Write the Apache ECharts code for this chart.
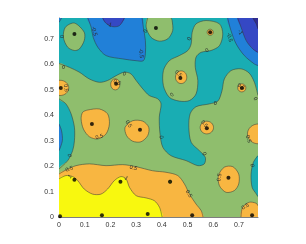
<!DOCTYPE html>
<html><head><meta charset="utf-8">
<script src="https://cdn.jsdelivr.net/npm/echarts@6/dist/echarts.min.js"></script>
<style>html,body{margin:0;padding:0;background:#fff}#c{width:306px;height:244px}</style>
</head><body><div id="c"></div>
<script>
// ---- axis ticks ----
const xTickLabels = ['0','0.1','0.2','0.3','0.4','0.5','0.6','0.7'];
const yTickLabels = ['0','0.1','0.2','0.3','0.4','0.5','0.6','0.7'];
const X = 0.774, Y = 0.783;   // axis limits

// ---- band colours (contour levels -1.5,-1,-0.5,0,0.5,1) ----
const C_NAVY='#2f2c92', C_INDIGO='#3548c4', C_BLUE='#2180d8', C_TEAL='#19adb3', C_GREEN='#8fbe6d', C_ORANGE='#f8b641', C_YELLOW='#f8f80f';
const LINE='#333333';

// ---- contour regions (data units) ----
const tealBase = [[0,0],[X,0],[X,Y],[0,Y]];
const blueTop = [[0.112,Y],[0.125,0.747],[0.133,0.707],[0.151,0.668],[0.183,0.635],[0.248,0.622],[0.300,0.615],[0.328,0.615],[0.336,0.642],[0.336,0.694],[0.328,0.747],[0.323,Y]];
const blueTR = [[0.656,Y],[0.669,0.733],[0.689,0.681],[0.721,0.635],[0.760,0.602],[X,0.596],[X,Y]];
const blueCorner = [[0,Y],[0.010,Y],[0.005,0.774],[0,0.766]];
const indigoTop = [[0.170,Y],[0.183,0.762],[0.209,0.749],[0.235,0.753],[0.254,Y]];
const indigoTR = [[0.695,Y],[0.708,0.747],[0.728,0.694],[0.754,0.661],[X,0.648],[X,Y]];
const navyTR = [[0.754,Y],[0.767,0.760],[X,0.740],[X,Y]];
const greenTL = [[0.060,0.763],[0.098,0.727],[0.098,0.694],[0.079,0.661],[0.060,0.655],[0.034,0.668],[0.017,0.707],[0.025,0.747]];
const greenTM = [[0.345,Y],[0.339,0.747],[0.358,0.707],[0.390,0.692],[0.423,0.701],[0.442,0.733],[0.440,0.773],[0.436,Y]];
const greenTR = [[0.572,0.773],[0.624,0.760],[0.637,0.720],[0.624,0.674],[0.591,0.655],[0.553,0.648],[0.533,0.629],[0.530,0.589],[0.540,0.537],[0.533,0.484],[0.507,0.458],[0.468,0.456],[0.429,0.471],[0.406,0.517],[0.406,0.576],[0.429,0.615],[0.468,0.635],[0.501,0.655],[0.514,0.681],[0.518,0.727],[0.533,0.760]];
const greenBand = [[0,0.604],[0.040,0.589],[0.079,0.570],[0.118,0.543],[0.157,0.530],[0.189,0.537],[0.222,0.556],[0.254,0.570],[0.280,0.563],[0.300,0.537],[0.326,0.504],[0.351,0.478],[0.384,0.465],[0.397,0.445],[0.390,0.393],[0.393,0.327],[0.404,0.274],[0.436,0.241],[0.494,0.222],[0.540,0.202],[0.565,0.209],[0.569,0.235],[0.546,0.261],[0.514,0.294],[0.505,0.353],[0.510,0.406],[0.533,0.434],[0.585,0.445],[0.618,0.456],[0.634,0.497],[0.643,0.543],[0.669,0.576],[0.708,0.583],[0.740,0.566],[0.760,0.530],[X,0.478],
  [X,0],[0,0],
  [0,0.189],[0.034,0.222],[0.053,0.261],[0.060,0.300],[0.060,0.353],[0.047,0.406],[0.027,0.445],[0,0.465]];
const tealRight = [[X,0.241],[0.756,0.215],[0.747,0.169],[0.751,0.117],[0.767,0.091],[X,0.080]];
const blueLeft = [[0,0.366],[0.010,0.339],[0.013,0.300],[0,0.261]];
const orangeA = [[0.112,0.421],[0.157,0.425],[0.189,0.406],[0.196,0.366],[0.183,0.327],[0.151,0.307],[0.118,0.316],[0.095,0.346],[0.086,0.386],[0.092,0.412]];
const orangeB = [[0.287,0.379],[0.326,0.377],[0.349,0.353],[0.345,0.320],[0.319,0.296],[0.287,0.298],[0.263,0.320],[0.257,0.353]];
const orangeC = [[0.643,0.196],[0.676,0.198],[0.699,0.169],[0.699,0.130],[0.682,0.104],[0.650,0.097],[0.624,0.123],[0.620,0.163]];
const orangeBR = [[0.708,0],[0.714,0.038],[0.740,0.058],[0.767,0.054],[X,0.044],[X,0]];
const orangeBottom = [[0,0.169],[0.027,0.185],[0.066,0.202],[0.118,0.209],[0.183,0.202],[0.248,0.206],[0.300,0.198],[0.364,0.182],[0.416,0.176],[0.462,0.163],[0.488,0.130],[0.507,0.091],[0.533,0.051],[0.553,0.025],[0.560,0],[0,0]];
const yellowBottom = [[0,0.150],[0.027,0.163],[0.053,0.159],[0.073,0.143],[0.098,0.110],[0.131,0.090],[0.163,0.090],[0.189,0.110],[0.215,0.143],[0.241,0.159],[0.261,0.150],[0.274,0.117],[0.300,0.084],[0.339,0.075],[0.371,0.064],[0.391,0.038],[0.401,0],[0,0]];

// small closed contours: [cx, cy, rx, ry]
const orangeSpots = [[0.588,0.727,0.012,0.012],[0.475,0.550,0.022,0.025],[0.711,0.508,0.016,0.016],[0.219,0.522,0.018,0.022],[0.004,0.508,0.034,0.030],[0.575,0.352,0.026,0.025],[0.775,0.327,0.042,0.039]];
const yellowSpots = [[0.432,0.139,0.006,0.006]];

// sample points
const ptsX = [0.060,0.377,0.588,0.007,0.222,0.472,0.711,0.128,0.315,0.575,0.775,0.060,0.239,0.432,0.659,0.004,0.167,0.345,0.518,0.751];
const ptsY = [0.720,0.744,0.727,0.508,0.524,0.547,0.508,0.366,0.343,0.349,0.327,0.147,0.139,0.139,0.154,0.003,0.007,0.012,0.007,0.007];

// contour labels: text, x, y, angle(deg)
const lblText = ['0','-0.5','-1','-0.5','0','0','0','0.5','0.5','0','0','0.5','-0.5','-1','0','0','0.5','0','0.5','0.5','0','0.5','0.5','0','0','0.5','1','0.5','1','0.5','0','0.5','0.5'];
const lblX = [0.014,0.137,0.196,0.319,0.336,0.017,0.254,0.027,0.226,0.507,0.576,0.464,0.663,0.704,0.440,0.608,0.708,0.764,0.157,0.271,0.397,0.565,0.737,0.565,0.043,0.040,0.043,0.289,0.261,0.624,0.754,0.505,0.725];
const lblY = [0.710,0.731,0.757,0.644,0.731,0.589,0.563,0.508,0.530,0.701,0.655,0.563,0.707,0.727,0.481,0.445,0.513,0.465,0.316,0.366,0.314,0.366,0.307,0.248,0.241,0.189,0.159,0.193,0.152,0.156,0.202,0.091,0.041];
const lblRot = [90,-75,-20,-85,60,-20,-30,-80,-30,70,30,-40,-75,-60,45,0,-30,-60,15,-55,-85,-50,-70,-70,60,20,45,-15,-40,80,70,-60,30];

// fill layers (painter's order) and which vertex runs are contour lines
const regions = [
  {p:tealBase,f:C_TEAL,ln:[]},
  {p:blueTop,f:C_BLUE,ln:[[0,11]]},{p:blueTR,f:C_BLUE,ln:[[0,5]]},{p:blueCorner,f:C_BLUE,ln:[[1,3]]},
  {p:indigoTop,f:C_INDIGO,ln:[[0,4]]},{p:indigoTR,f:C_INDIGO,ln:[[0,4]]},{p:navyTR,f:C_NAVY,ln:[[0,2]]},
  {p:greenTL,f:C_GREEN,closed:true},{p:greenTM,f:C_GREEN,ln:[[0,7]]},{p:greenTR,f:C_GREEN,closed:true},
  {p:greenBand,f:C_GREEN,ln:[[0,35],[38,45]]},
  {p:tealRight,f:C_TEAL,ln:[[0,5]]},{p:blueLeft,f:C_BLUE,ln:[[0,3]]},
  {p:orangeA,f:C_ORANGE,closed:true},{p:orangeB,f:C_ORANGE,closed:true},{p:orangeC,f:C_ORANGE,closed:true},
  {p:orangeBR,f:C_ORANGE,ln:[[0,4]]},
  {p:orangeBottom,f:C_ORANGE,ln:[[0,14]]},
  {p:yellowBottom,f:C_YELLOW,ln:[[0,16]]}
];
const strokes = [];
regions.forEach(r=>{
  if(r.closed) strokes.push({p:r.p,closed:true});
  else r.ln.forEach(([a,b])=>strokes.push({p:r.p.slice(a,b+1),closed:false}));
});
const spots = orangeSpots.map(s=>({s,f:C_ORANGE})).concat(yellowSpots.map(s=>({s,f:C_YELLOW})));

function clipOf(params){const c=params.coordSys;return {type:'rect',shape:{x:c.x,y:c.y,width:c.width,height:c.height}};}

const chart = echarts.init(document.getElementById('c'), null, {renderer:'canvas'});
const axisCommon = {
  type:'value', min:0, interval:0.1,
  axisLine:{show:true,onZero:false,lineStyle:{color:'#262626',width:0.6}},
  axisTick:{show:true,inside:true,length:2,lineStyle:{color:'#262626',width:0.6}},
  splitLine:{show:false}
};
chart.setOption({
  animation:false,
  grid:{left:59,top:18,width:199,height:199,containLabel:false},
  xAxis:Object.assign({},axisCommon,{max:X,
    axisLabel:{fontSize:7,color:'#333',fontFamily:'Liberation Sans',margin:5,showMaxLabel:false,
      formatter:v=>xTickLabels[Math.round(v*10)]||''}}),
  yAxis:Object.assign({},axisCommon,{max:Y,
    axisLabel:{fontSize:7,color:'#333',fontFamily:'Liberation Sans',margin:5,showMaxLabel:false,
      formatter:v=>yTickLabels[Math.round(v*10)]||''}}),
  series:[
    {type:'custom',z:1,silent:true,
     data:regions.map((r,i)=>[i,0]),
     renderItem:function(params,api){
       const r=regions[params.dataIndex];
       return {type:'polygon',shape:{points:r.p.map(q=>api.coord(q)),smooth:0.3},
         style:{fill:r.f,stroke:null},clipPath:clipOf(params)};
     }},
    {type:'custom',z:2,silent:true,
     data:strokes.map((s,i)=>[i,0]),
     renderItem:function(params,api){
       const s=strokes[params.dataIndex];
       return {type:s.closed?'polygon':'polyline',shape:{points:s.p.map(q=>api.coord(q)),smooth:0.3},
         style:{fill:null,stroke:LINE,lineWidth:0.5},clipPath:clipOf(params)};
     }},
    {type:'custom',z:3,silent:true,
     data:spots.map((o,i)=>[i,0]),
     renderItem:function(params,api){
       const o=spots[params.dataIndex];
       const c=api.coord([o.s[0],o.s[1]]);
       const sz=api.size([o.s[2],o.s[3]],[o.s[0],o.s[1]]);
       return {type:'ellipse',shape:{cx:c[0],cy:c[1],rx:sz[0],ry:sz[1]},
         style:{fill:o.f,stroke:LINE,lineWidth:0.5},clipPath:clipOf(params)};
     }},
    {type:'custom',z:4,silent:true,
     data:lblX.map((x,i)=>[x,lblY[i]]),
     renderItem:function(params,api){
       const i=params.dataIndex;
       const c=api.coord([lblX[i],lblY[i]]);
       return {type:'text',x:c[0],y:c[1],rotation:lblRot[i]*Math.PI/180,
         style:{text:lblText[i],fontSize:5.5,fontFamily:'Liberation Sans',fill:'#2a2a2a',align:'center',verticalAlign:'middle'}};
     }},
    {type:'scatter',z:5,silent:true,symbol:'circle',symbolSize:4,
     itemStyle:{color:'#000'},
     data:ptsX.map((x,i)=>[x,ptsY[i]])}
  ]
});
</script>
</body></html>
